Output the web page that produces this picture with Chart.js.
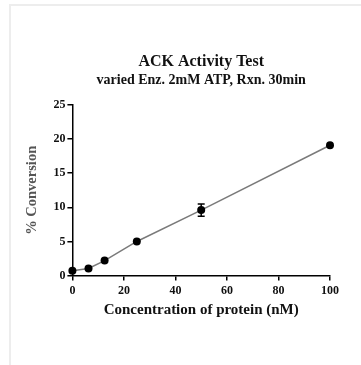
<!DOCTYPE html>
<html><head><meta charset="utf-8">
<script src="https://cdn.jsdelivr.net/npm/chart.js@4"></script>
<style>
html,body{margin:0;padding:0;background:#fff;}
#wrap{position:relative;width:361px;height:365px;overflow:hidden;}
#frame{position:absolute;left:9px;top:4px;right:-5px;bottom:-5px;border-top:2px solid #ededed;border-left:2px solid #ededed;pointer-events:none;}
canvas{position:absolute;left:0;top:0;}
</style></head>
<body>
<div id="wrap"><canvas id="c" width="361" height="365"></canvas><div id="frame"></div></div>
<script>
const concentrations = [0, 6.25, 12.5, 25, 50, 100];
const conversion = [0.7, 1.05, 2.2, 5.0, 9.6, 19.1];
const errors = [0.1, 0.1, 0.15, 0.15, 0.9, 0.45];
const yTicks = [0, 5, 10, 15, 20, 25];
const xTicks = [0, 20, 40, 60, 80, 100];
const titleText = 'ACK Activity Test';
const subtitleText = 'varied Enz. 2mM ATP, Rxn. 30min';
const xTitle = 'Concentration of protein (nM)';
const yTitle = '% Conversion';

const serif = '"Liberation Serif", "Times New Roman", serif';

const errorBars = {
  id: 'errorBars',
  afterDatasetsDraw(chart) {
    const ctx = chart.ctx, xs = chart.scales.x, ys = chart.scales.y;
    ctx.save();
    ctx.strokeStyle = '#000';
    ctx.lineWidth = 1.5;
    concentrations.forEach((c, i) => {
      const px = xs.getPixelForValue(c);
      const top = ys.getPixelForValue(conversion[i] + errors[i]);
      const bot = ys.getPixelForValue(conversion[i] - errors[i]);
      if (bot - top < 9) return;
      ctx.beginPath();
      ctx.moveTo(px, top); ctx.lineTo(px, bot);
      ctx.moveTo(px - 3.5, top); ctx.lineTo(px + 3.5, top);
      ctx.moveTo(px - 3.5, bot); ctx.lineTo(px + 3.5, bot);
      ctx.stroke();
    });
    ctx.restore();
  }
};

new Chart(document.getElementById('c'), {
  type: 'scatter',
  data: {
    datasets: [{
      data: concentrations.map((c, i) => ({x: c, y: conversion[i]})),
      showLine: true,
      borderColor: '#7a7a7a',
      borderWidth: 1.5,
      pointBackgroundColor: '#000',
      pointBorderColor: '#000',
      pointRadius: 4,
      pointBorderWidth: 0,
      clip: false
    }]
  },
  options: {
    responsive: false,
    animation: false,
    events: [],
    layout: {padding: {left: 20, right: 31, top: 52, bottom: 42}},
    plugins: {
      legend: {display: false},
      tooltip: {enabled: false},
      title: {
        display: true, text: titleText, fullSize: false, color: '#111',
        font: {family: serif, size: 16, weight: 'bold'}, padding: {top: 0, bottom: 1}
      },
      subtitle: {
        display: true, text: subtitleText, fullSize: false, color: '#111',
        font: {family: serif, size: 14, weight: 'bold'}, padding: {top: 0, bottom: 16}
      }
    },
    scales: {
      x: {
        type: 'linear', min: 0, max: 100,
        afterBuildTicks: s => { s.ticks = xTicks.map(v => ({value: v})); },
        ticks: {color: '#111', font: {family: serif, size: 12, weight: 'bold'}, padding: 3, maxRotation: 0},
        grid: {display: true, drawOnChartArea: false, tickLength: 5, color: '#000', lineWidth: 1.5},
        border: {color: '#000', width: 1.5},
        title: {display: true, text: xTitle, color: '#111', font: {family: serif, size: 15, weight: 'bold'}, padding: {top: 0}}
      },
      y: {
        type: 'linear', min: 0, max: 25,
        afterBuildTicks: s => { s.ticks = yTicks.map(v => ({value: v})); },
        ticks: {color: '#111', font: {family: serif, size: 12, weight: 'bold'}, padding: 2},
        grid: {display: true, drawOnChartArea: false, tickLength: 5, color: '#000', lineWidth: 1.5},
        border: {color: '#000', width: 1.5},
        title: {display: true, text: yTitle, color: '#555', font: {family: serif, size: 14.5, weight: 'bold'}, padding: {bottom: 10}}
      }
    }
  },
  plugins: [errorBars]
});
</script>
</body></html>
